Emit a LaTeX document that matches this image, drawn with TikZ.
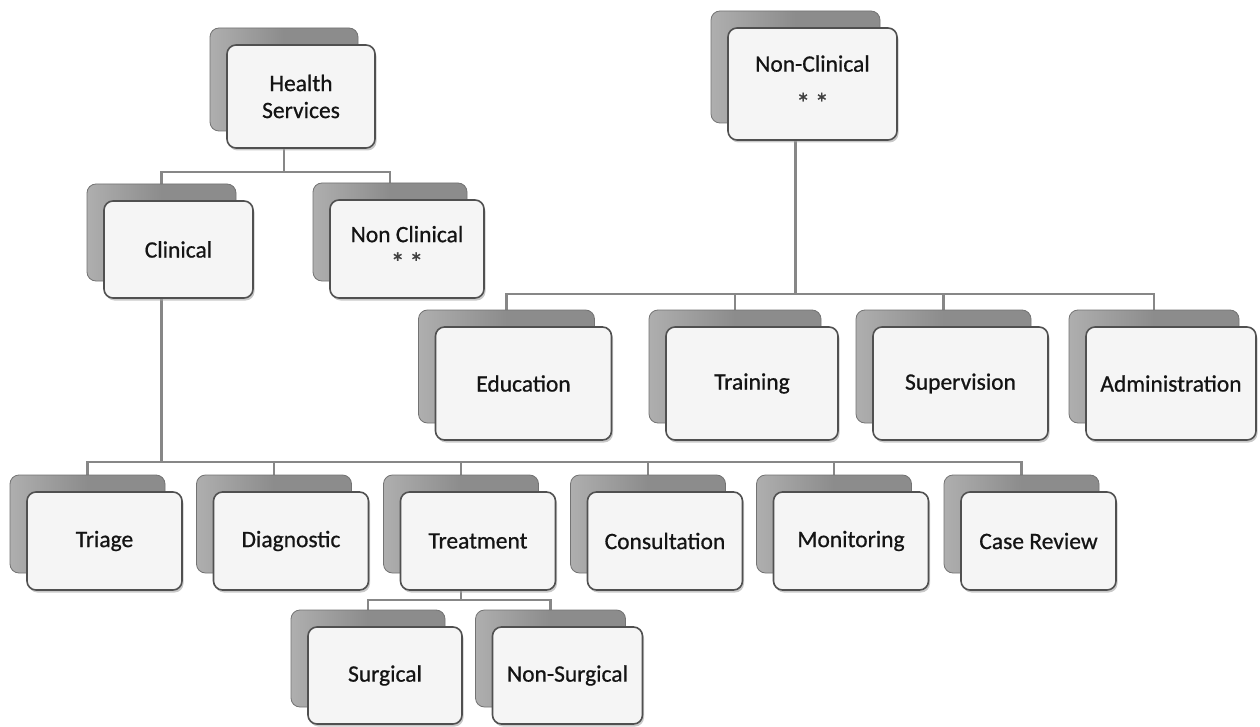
\documentclass[tikz,border=0pt]{standalone}
\usepackage{fontspec}
\setmainfont{Carlito}
\newfontfamily\cardfont[FakeBold=0.7]{Carlito}
\usetikzlibrary{shadows,backgrounds}

\definecolor{linkgray}{RGB}{135,135,135}
\definecolor{backfill}{RGB}{140,140,140}
\definecolor{backedge}{RGB}{115,115,115}
\definecolor{frontfill}{RGB}{245,245,245}
\definecolor{frontedge}{RGB}{80,80,80}
\definecolor{inktext}{RGB}{20,20,20}

\tikzset{
  backbox/.style={rectangle, rounded corners=9pt, inner sep=0pt,
    left color=backfill!70!white, right color=backfill, middle color=backfill,
    draw=backedge, line width=0.8pt},
  frontbox/.style={rectangle, rounded corners=9pt, inner sep=2pt,
    fill=frontfill, draw=frontedge, line width=1.6pt,
    drop shadow={shadow xshift=1.5pt, shadow yshift=-2.5pt, fill=gray!70, opacity=0.6},
    text=inktext, font=\cardfont\fontsize{23.5}{27}\selectfont, align=center},
  link/.style={draw=linkgray, line width=2.6pt},
}

% one org chart entry: a grey card behind a white card
% #1 name, #2 centre x, #3 centre y, #4 width, #5 height, #6 text
\newcommand{\orgcard}[6]{%
  \node[backbox, minimum width=#4pt, minimum height=#5pt] (#1-b) at ({#2-17},{#3-17}) {};
  \node[frontbox, minimum width=#4pt, minimum height=#5pt] (#1) at (#2,#3) {#6};
}
% the double asterisk mark under a heading
\newcommand{\starmark}{{\color{black!75}\fontsize{28}{28}\selectfont\raisebox{-6pt}{*\,*}}}

\begin{document}
\begin{tikzpicture}[x=1pt,y=-1pt]
  \useasboundingbox (0,0) rectangle (1260,727);

  % bus heights
  \coordinate (hsbus) at (0,172);
  \coordinate (ncbus) at (0,294);
  \coordinate (clbus) at (0,462);
  \coordinate (trbus) at (0,600);

  % cards
  \orgcard{hs}{301}{96.5}{148}{103}{Health\\Services}
  \orgcard{nc}{812.5}{84}{169}{112}{Non-Clinical\\[8pt]\starmark}
  \orgcard{cl}{178.5}{249.5}{149}{97}{Clinical}
  \orgcard{ncl}{407}{249}{154}{98}{Non Clinical\\[-3pt]\starmark}

  \orgcard{edu}{523.5}{383.5}{176}{113}{Education}
  \orgcard{trn}{752}{383.5}{172}{113}{Training}
  \orgcard{sup}{960.5}{383.5}{175}{113}{Supervision}
  \orgcard{adm}{1171}{383.5}{170}{113}{Administration}

  \orgcard{tri}{104.5}{541}{155}{98}{Triage}
  \orgcard{dia}{291}{541}{155}{98}{Diagnostic}
  \orgcard{tre}{478}{541}{155}{98}{Treatment}
  \orgcard{con}{665}{541}{155}{98}{Consultation}
  \orgcard{mon}{851}{541}{155}{98}{Monitoring}
  \orgcard{cr}{1038.5}{541}{155}{98}{Case Review}

  \orgcard{sur}{385}{675.5}{154}{97}{Surgical}
  \orgcard{nsu}{567.5}{675.5}{150}{97}{Non-Surgical}

  % connectors behind the cards
  \begin{scope}[on background layer]
    \fill[white] (0,0) rectangle (1260,727);
    % Health Services
    \draw[link] (hs-b |- hs.south) -- (hs-b |- hsbus);
    \draw[link] (cl-b.north) |- (hs-b |- hsbus) -| (ncl-b.north);
    % Non-Clinical
    \draw[link] (nc-b |- nc.south) -- (nc-b |- ncbus);
    \draw[link] (edu-b.north) |- (nc-b |- ncbus) -| (adm-b.north);
    \foreach \c in {trn,sup} \draw[link] (\c-b.north) -- (\c-b |- ncbus);
    % Clinical
    \draw[link] (cl-b |- cl.south) -- (cl-b |- clbus);
    \draw[link] (tri-b.north) |- (cl-b |- clbus) -| (cr-b.north);
    \foreach \c in {dia,tre,con,mon} \draw[link] (\c-b.north) -- (\c-b |- clbus);
    % Treatment
    \draw[link] (tre-b |- tre.south) -- (tre-b |- trbus);
    \draw[link] (sur-b.north) |- (tre-b |- trbus) -| (nsu-b.north);
  \end{scope}
\end{tikzpicture}
\end{document}
